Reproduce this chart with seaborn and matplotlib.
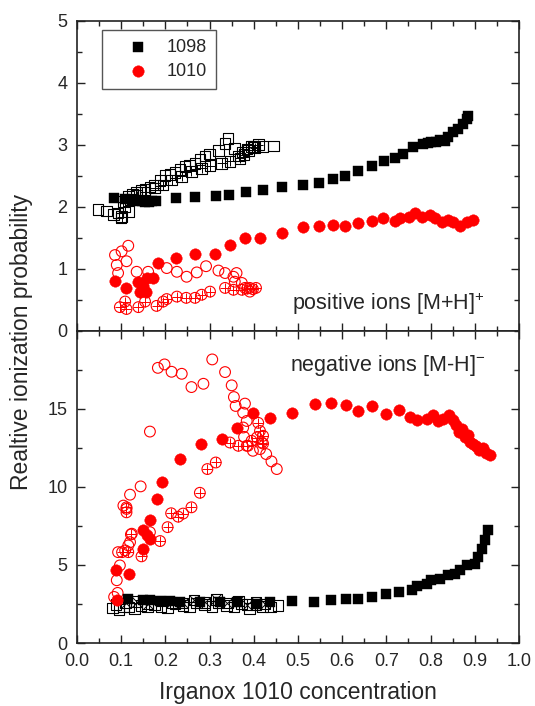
import matplotlib
matplotlib.use('Agg')
import matplotlib.pyplot as plt
import seaborn as sns
from matplotlib.ticker import MultipleLocator

sns.set_style('ticks')
plt.rcParams['font.family'] = ['Liberation Sans', 'DejaVu Sans']
plt.rcParams['mathtext.default'] = 'regular'

# ---------------- positive ions (top panel) ----------------
# 1098, filled squares
pos_1098_x = [0.084, 0.109, 0.125, 0.133, 0.140, 0.147, 0.155, 0.163, 0.170, 0.178, 0.223, 0.267,
              0.314, 0.344, 0.382, 0.421, 0.464, 0.511, 0.548, 0.579, 0.606, 0.635, 0.667, 0.695,
              0.719, 0.737, 0.761, 0.783, 0.795, 0.802, 0.812, 0.821, 0.832, 0.840, 0.851, 0.863,
              0.873, 0.882, 0.885]
pos_1098_y = [2.14, 2.13, 2.11, 2.10, 2.09, 2.09, 2.08, 2.08, 2.09, 2.09, 2.14, 2.16,
              2.18, 2.19, 2.23, 2.27, 2.31, 2.35, 2.39, 2.45, 2.50, 2.57, 2.65, 2.73,
              2.78, 2.85, 2.96, 3.01, 3.03, 3.05, 3.04, 3.08, 3.06, 3.13, 3.20, 3.26,
              3.34, 3.42, 3.47]
# 1098, open squares
pos_1098o_x = [0.048, 0.067, 0.082, 0.093, 0.100, 0.116, 0.116, 0.125, 0.135, 0.145, 0.154, 0.165,
               0.176, 0.188, 0.199, 0.210, 0.222, 0.233, 0.244, 0.255, 0.267, 0.278, 0.290, 0.300,
               0.320, 0.335, 0.342, 0.357, 0.365, 0.375, 0.385, 0.399, 0.421, 0.444]
pos_1098o_y = [1.95, 1.93, 1.87, 1.90, 1.82, 1.92, 2.16, 2.20, 2.24, 2.26, 2.28, 2.32,
               2.35, 2.42, 2.50, 2.52, 2.55, 2.60, 2.65, 2.67, 2.70, 2.76, 2.82, 2.85,
               2.91, 3.02, 3.10, 2.94, 2.82, 2.88, 2.93, 2.97, 2.97, 2.98]
# 1098, crossed squares
pos_1098c_x = [0.101, 0.105, 0.109, 0.120, 0.135, 0.154, 0.176, 0.195, 0.214, 0.237, 0.259, 0.282,
               0.301, 0.327, 0.346, 0.369, 0.378, 0.388, 0.395, 0.402, 0.410]
pos_1098c_y = [1.84, 2.08, 2.00, 2.12, 2.18, 2.24, 2.30, 2.35, 2.43, 2.49, 2.57, 2.62,
               2.66, 2.70, 2.73, 2.78, 2.84, 2.91, 2.97, 2.95, 3.00]
# 1010, filled circles
pos_1010_x = [0.086, 0.112, 0.139, 0.143, 0.149, 0.156, 0.158, 0.173, 0.183, 0.223, 0.267, 0.312,
              0.346, 0.381, 0.414, 0.463, 0.511, 0.548, 0.580, 0.606, 0.635, 0.667, 0.693, 0.719,
              0.731, 0.752, 0.765, 0.780, 0.799, 0.810, 0.825, 0.840, 0.851, 0.867, 0.882, 0.895]
pos_1010_y = [0.80, 0.69, 0.79, 0.63, 0.72, 0.62, 0.85, 0.85, 1.09, 1.17, 1.24, 1.24,
              1.38, 1.49, 1.50, 1.58, 1.67, 1.69, 1.71, 1.69, 1.74, 1.77, 1.81, 1.77,
              1.81, 1.83, 1.90, 1.84, 1.87, 1.81, 1.76, 1.78, 1.76, 1.69, 1.76, 1.79]
# 1010, open circles
pos_1010o_x = [0.086, 0.090, 0.093, 0.101, 0.112, 0.116, 0.135, 0.161, 0.203, 0.226, 0.248, 0.271,
               0.292, 0.320, 0.335, 0.354, 0.361, 0.357, 0.373, 0.380, 0.391]
pos_1010o_y = [1.22, 1.06, 0.93, 1.28, 1.12, 1.37, 0.95, 0.95, 1.01, 0.95, 0.87, 0.94,
               1.04, 0.97, 0.93, 0.87, 0.93, 0.79, 0.77, 0.69, 0.63]
# 1010, crossed circles
pos_1010c_x = [0.097, 0.109, 0.112, 0.139, 0.154, 0.180, 0.195, 0.203, 0.226, 0.247, 0.267, 0.282,
               0.301, 0.335, 0.354, 0.373, 0.385, 0.391, 0.398, 0.405]
pos_1010c_y = [0.38, 0.47, 0.35, 0.38, 0.47, 0.40, 0.47, 0.51, 0.55, 0.53, 0.53, 0.58,
               0.63, 0.69, 0.66, 0.66, 0.68, 0.69, 0.67, 0.69]

# ---------------- negative ions (bottom panel) ----------------
neg_1098_x = [0.116, 0.150, 0.165, 0.188, 0.210, 0.233, 0.278, 0.324, 0.361, 0.407, 0.437, 0.487,
              0.536, 0.575, 0.608, 0.636, 0.667, 0.699, 0.729, 0.757, 0.769, 0.791, 0.802, 0.821,
              0.840, 0.855, 0.867, 0.882, 0.900, 0.908, 0.916, 0.923, 0.929]
neg_1098_y = [2.85, 2.74, 2.74, 2.68, 2.68, 2.64, 2.64, 2.64, 2.64, 2.53, 2.64, 2.68,
              2.64, 2.74, 2.81, 2.85, 2.95, 3.13, 3.27, 3.42, 3.64, 3.76, 4.02, 4.12,
              4.34, 4.44, 4.66, 4.97, 5.04, 5.50, 6.04, 6.57, 7.21]
neg_1098o_x = [0.080, 0.088, 0.095, 0.105, 0.118, 0.130, 0.145, 0.160, 0.175, 0.190, 0.205, 0.222,
               0.240, 0.255, 0.270, 0.288, 0.305, 0.320, 0.338, 0.355, 0.372, 0.390, 0.405, 0.420,
               0.438, 0.455]
neg_1098o_y = [2.25, 2.45, 2.15, 2.35, 2.30, 2.20, 2.40, 2.30, 2.45, 2.35, 2.25, 2.50,
               2.40, 2.30, 2.55, 2.45, 2.35, 2.60, 2.40, 2.30, 2.50, 2.20, 2.45, 2.35,
               2.30, 2.40]
neg_1098c_x = [0.110, 0.135, 0.160, 0.190, 0.215, 0.240, 0.265, 0.290, 0.315, 0.340, 0.365, 0.385,
               0.405, 0.425]
neg_1098c_y = [2.55, 2.65, 2.50, 2.70, 2.60, 2.55, 2.75, 2.60, 2.80, 2.55, 2.70, 2.45,
               2.60, 2.50]
neg_1010_x = [0.090, 0.088, 0.118, 0.149, 0.150, 0.158, 0.165, 0.165, 0.180, 0.192, 0.233, 0.281,
              0.329, 0.363, 0.399, 0.437, 0.486, 0.538, 0.575, 0.609, 0.636, 0.667, 0.699, 0.729,
              0.753, 0.769, 0.791, 0.805, 0.817, 0.829, 0.842, 0.850, 0.858, 0.865, 0.872, 0.878,
              0.885, 0.890, 0.897, 0.903, 0.910, 0.918, 0.926, 0.934]
neg_1010_y = [2.74, 4.66, 4.44, 6.04, 7.21, 6.89, 6.68, 7.89, 9.23, 10.32, 11.78, 12.77,
              13.09, 13.80, 14.75, 14.39, 14.71, 15.33, 15.37, 15.22, 14.86, 15.18, 14.69, 14.92,
              14.48, 14.27, 14.33, 14.60, 14.22, 14.33, 14.60, 14.30, 13.95, 13.50, 13.70, 13.20,
              13.35, 12.90, 12.75, 12.60, 12.35, 12.50, 12.20, 12.05]
neg_1010o_x = [0.084, 0.092, 0.090, 0.097, 0.093, 0.109, 0.116, 0.120, 0.124, 0.112, 0.105, 0.120,
               0.144, 0.165, 0.165, 0.183, 0.198, 0.214, 0.237, 0.259, 0.286, 0.306, 0.335, 0.350,
               0.355, 0.359, 0.380, 0.376, 0.384, 0.376, 0.378, 0.387, 0.398, 0.414, 0.428, 0.440,
               0.452]
neg_1010o_y = [2.95, 3.21, 4.02, 4.97, 5.82, 5.93, 6.25, 6.46, 7.00, 8.59, 8.80, 9.50,
               10.03, 7.10, 13.54, 17.62, 17.84, 17.37, 17.24, 16.39, 16.60, 18.16, 17.35, 16.50,
               15.75, 15.18, 15.33, 14.75, 14.22, 13.80, 13.20, 12.63, 12.31, 12.42, 12.10, 11.63,
               11.14]
neg_1010c_x = [0.102, 0.112, 0.112, 0.116, 0.122, 0.146, 0.188, 0.205, 0.213, 0.229, 0.240, 0.259,
               0.278, 0.295, 0.314, 0.346, 0.365, 0.384, 0.395, 0.407, 0.410, 0.414, 0.418, 0.421,
               0.421]
neg_1010c_y = [5.82, 8.37, 8.69, 5.82, 6.95, 5.55, 6.53, 7.42, 8.31, 8.09, 8.29, 8.69,
               9.62, 11.14, 11.56, 12.84, 12.63, 12.63, 12.95, 13.16, 14.10, 13.58, 12.84, 13.27,
               12.77]

RED = '#ff0000'
BLACK = '#000000'


def filled(ax, x, y, marker, color, s, label=None):
    sns.scatterplot(x=x, y=y, ax=ax, marker=marker, s=s, color=color,
                    edgecolor=color, linewidth=0.3, label=label, zorder=4)


def hollow(ax, x, y, marker, color, s, cross=None):
    sns.scatterplot(x=x, y=y, ax=ax, marker=marker, s=s, facecolor='none',
                    edgecolor=color, linewidth=0.8, zorder=3)
    if cross:
        sns.scatterplot(x=x, y=y, ax=ax, marker=cross, s=s * 0.8, color=color,
                        linewidth=0.7, zorder=3)


fig = plt.figure(figsize=(5.35, 7.06), dpi=100)
ax1 = fig.add_axes([0.1439, 0.5316, 0.8262, 0.4391])
ax2 = fig.add_axes([0.1439, 0.0892, 0.8262, 0.4424])

# top panel
hollow(ax1, pos_1098o_x, pos_1098o_y, 's', BLACK, 58)
hollow(ax1, pos_1098c_x, pos_1098c_y, 's', BLACK, 58, cross='+')
filled(ax1, pos_1098_x, pos_1098_y, 's', BLACK, 50, label='1098')
hollow(ax1, pos_1010o_x, pos_1010o_y, 'o', RED, 60)
hollow(ax1, pos_1010c_x, pos_1010c_y, 'o', RED, 60, cross='+')
filled(ax1, pos_1010_x, pos_1010_y, 'o', RED, 68, label='1010')

# bottom panel
hollow(ax2, neg_1098o_x, neg_1098o_y, 's', BLACK, 58)
hollow(ax2, neg_1098c_x, neg_1098c_y, 's', BLACK, 58, cross='x')
filled(ax2, neg_1098_x, neg_1098_y, 's', BLACK, 50)
hollow(ax2, neg_1010o_x, neg_1010o_y, 'o', RED, 60)
hollow(ax2, neg_1010c_x, neg_1010c_y, 'o', RED, 60, cross='+')
filled(ax2, neg_1010_x, neg_1010_y, 'o', RED, 68)

for ax in (ax1, ax2):
    ax.set_xlim(0, 1)
    ax.xaxis.set_major_locator(MultipleLocator(0.1))
    ax.xaxis.set_minor_locator(MultipleLocator(0.05))
    ax.tick_params(which='both', direction='in', top=True, right=True,
                   width=1, color='#222222', labelsize=13, pad=7)
    ax.tick_params(which='major', length=6)
    ax.tick_params(which='minor', length=3.5)
    for sp in ax.spines.values():
        sp.set_linewidth(1.2)
        sp.set_color('#222222')
    ax.set_xlabel('')
    ax.set_ylabel('')

ax1.set_ylim(0, 5)
ax1.yaxis.set_major_locator(MultipleLocator(1))
ax1.yaxis.set_minor_locator(MultipleLocator(0.5))
ax1.tick_params(labelbottom=False)

ax2.set_ylim(0, 20)
ax2.set_yticks([0, 5, 10, 15])
ax2.yaxis.set_minor_locator(MultipleLocator(2.5))

ax1.text(0.486, 0.067, 'positive ions [M+H]$^{+}$', transform=ax1.transAxes,
         fontsize=15.5, va='baseline')
ax2.text(0.482, 0.872, 'negative ions [M-H]$^{-}$', transform=ax2.transAxes,
         fontsize=15.5, va='baseline')

leg = ax1.legend(loc='upper left', bbox_to_anchor=(0.057, 0.97), borderaxespad=0,
                 fancybox=False, edgecolor='#555555', framealpha=1, fontsize=13,
                 borderpad=0.5, labelspacing=0.39, handlelength=3.0, handletextpad=0.05,
                 markerscale=1.0, scatterpoints=1)
leg.get_frame().set_linewidth(1.0)

fig.text(0.041, 0.515, 'Realtive ionization probability', rotation=90,
         ha='center', va='center', fontsize=16.5)
fig.text(0.557, 0.010, 'Irganox 1010 concentration', ha='center', va='baseline',
         fontsize=16.5)

fig.savefig('out.png', dpi=100)
